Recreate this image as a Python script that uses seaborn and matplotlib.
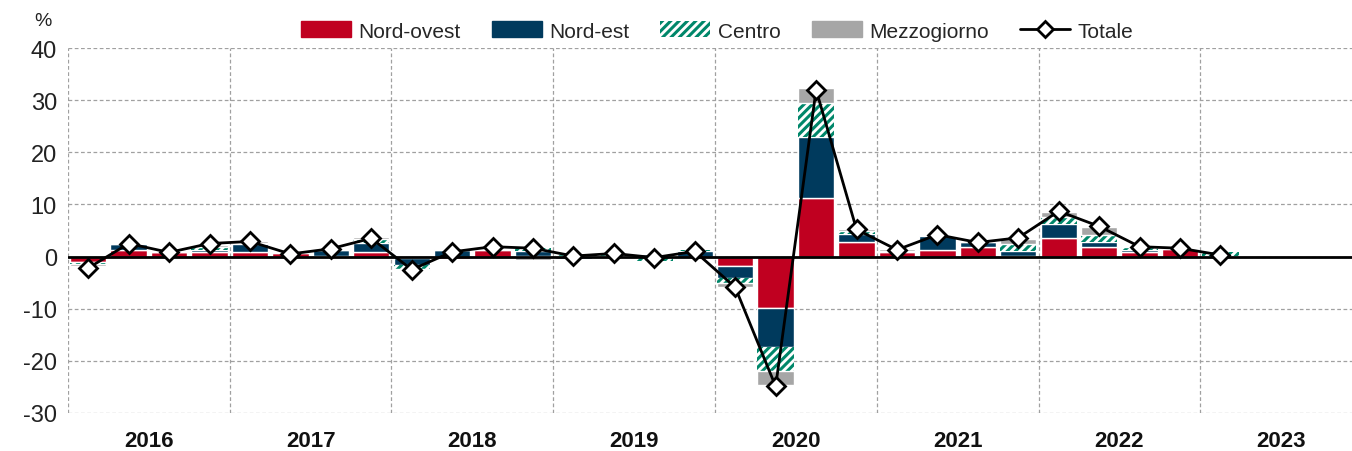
import numpy as np
import pandas as pd
import matplotlib
matplotlib.use("Agg")
import matplotlib.pyplot as plt
import seaborn as sns
from matplotlib.patches import Patch
from matplotlib.lines import Line2D

# ---- data (quarterly, 2016Q1 .. 2023Q1) ----
years = ["2016", "2017", "2018", "2019", "2020", "2021", "2022", "2023"]
nord_ovest = [-1.1, 1.2, 0.8, 0.8, 0.8, 0.7, 0.2, 0.8,
              -0.2, -0.5, 1.3, 0.1, 0.1, -0.1, 0.2, -0.2,
              -1.8, -9.9, 11.3, 2.7, 0.8, 1.35, 1.9, 0.2,
              3.6, 1.9, 0.8, 1.5, 0.1]
nord_est = [-0.1, 1.3, 0.0, 0.5, 1.7, -0.2, 1.0, 1.8,
            -1.5, 1.2, 0.2, 1.0, -0.5, 0.1, 0.2, 1.1,
            -2.4, -7.4, 11.7, 1.6, 0.0, 2.6, 0.8, 0.8,
            2.6, 0.8, 0.45, 0.1, -0.3]
centro = [-0.3, 0.0, 0.1, 0.6, 0.1, 0.0, 0.1, 0.8,
          -0.6, 0.1, 0.1, 0.6, 0.3, 0.4, -0.9, 0.2,
          -0.8, -4.6, 6.4, 0.6, 0.3, 0.1, 0.0, 1.4,
          1.4, 1.5, 0.6, 0.0, 0.7]
mezzogiorno = [-0.3, 0.1, 0.2, 0.4, 0.4, 0.1, 0.1, 0.3,
               -0.2, 0.1, 0.3, -0.7, 0.2, 0.2, 0.3, -0.1,
               -0.8, -2.7, 2.9, 0.4, 0.3, 0.1, 0.0, 1.0,
               1.0, 1.5, 0.1, 0.2, -0.2]
totale = [-2.2, 2.5, 0.8, 2.5, 2.9, 0.5, 1.5, 3.5,
          -2.5, 0.9, 1.9, 1.6, 0.1, 0.6, -0.2, 1.0,
          -5.9, -24.9, 32.0, 5.2, 1.3, 4.2, 2.7, 3.6,
          8.7, 5.8, 1.9, 1.6, 0.3]

series_names = ["Nord-ovest", "Nord-est", "Centro", "Mezzogiorno"]
series_vals = [nord_ovest, nord_est, centro, mezzogiorno]

RED = "#C00020"
BLUE = "#003A5D"
GREEN = "#00876A"
GRAY = "#A6A6A6"

sns.set_theme(style="white")
plt.rcParams["font.family"] = ["Liberation Sans", "DejaVu Sans"]
plt.rcParams["hatch.linewidth"] = 2.2
plt.rcParams["hatch.color"] = GREEN

fig = plt.figure(figsize=(13.52, 4.52), dpi=100)
ax = fig.add_axes([68 / 1352, 1 - 414 / 452, (1362 - 68) / 1352, (414 - 49) / 452])

n = len(totale)
x = np.arange(n)
pos_bottom = np.zeros(n)
neg_bottom = np.zeros(n)
styles = [
    dict(color=RED),
    dict(color=BLUE),
    dict(facecolor="white", edgecolor=GREEN, hatch="////", linewidth=0),
    dict(color=GRAY),
]
for name, vals, st in zip(series_names, series_vals, styles):
    v = np.array(vals, dtype=float)
    bottom = np.where(v >= 0, pos_bottom, neg_bottom)
    ax.bar(x, v, width=0.9, bottom=bottom, zorder=2, **st)
    pos_bottom = pos_bottom + np.where(v > 0, v, 0)
    neg_bottom = neg_bottom + np.where(v < 0, v, 0)

ax.axhline(0, color="black", lw=2, zorder=3)

df = pd.DataFrame({"q": x, "Totale": totale})
sns.lineplot(data=df, x="q", y="Totale", ax=ax, color="black", lw=2,
             marker="D", markersize=9, markerfacecolor="white",
             markeredgecolor="black", markeredgewidth=2, zorder=4)

ax.set_xlim(-0.5, 31.5)
ax.set_ylim(-30, 40)
ax.set_yticks(np.arange(-30, 41, 10))
ax.set_yticklabels([str(v) for v in range(-30, 41, 10)], fontsize=17, color="#222222")
ax.set_xticks(np.arange(-0.5, 32, 4))
ax.set_xticklabels([])
ax.set_xticks(np.arange(1.5, 32, 4), minor=True)
ax.set_xticklabels(years, minor=True, fontsize=16, fontweight="bold", color="#111111")
ax.tick_params(axis="both", which="both", length=0, pad=8)
ax.tick_params(axis="x", which="minor", pad=12)
ax.grid(True, which="major", axis="both", color="#A0A0A0", ls=(0, (3, 2)), lw=0.9, zorder=0)
ax.set_xlabel("")
ax.set_ylabel("")
for s in ax.spines.values():
    s.set_visible(False)

fig.text(43 / 1352, 1 - 22 / 452, "%", fontsize=14, ha="center", va="center", color="#222222")

handles = [
    Patch(facecolor=RED, edgecolor=RED),
    Patch(facecolor=BLUE, edgecolor=BLUE),
    Patch(facecolor="white", edgecolor=GREEN, hatch="////", linewidth=0),
    Patch(facecolor=GRAY, edgecolor=GRAY),
    Line2D([0], [0], color="black", lw=2, marker="D", markersize=8,
           markerfacecolor="white", markeredgecolor="black", markeredgewidth=2),
]
fig.legend(handles, series_names + ["Totale"], loc="center", ncol=5,
           bbox_to_anchor=(717 / 1352, 1 - 32 / 452), frameon=False,
           fontsize=15, handlelength=2.4, handleheight=0.8, columnspacing=1.5,
           handletextpad=0.35)

fig.savefig("out.png", dpi=100)
